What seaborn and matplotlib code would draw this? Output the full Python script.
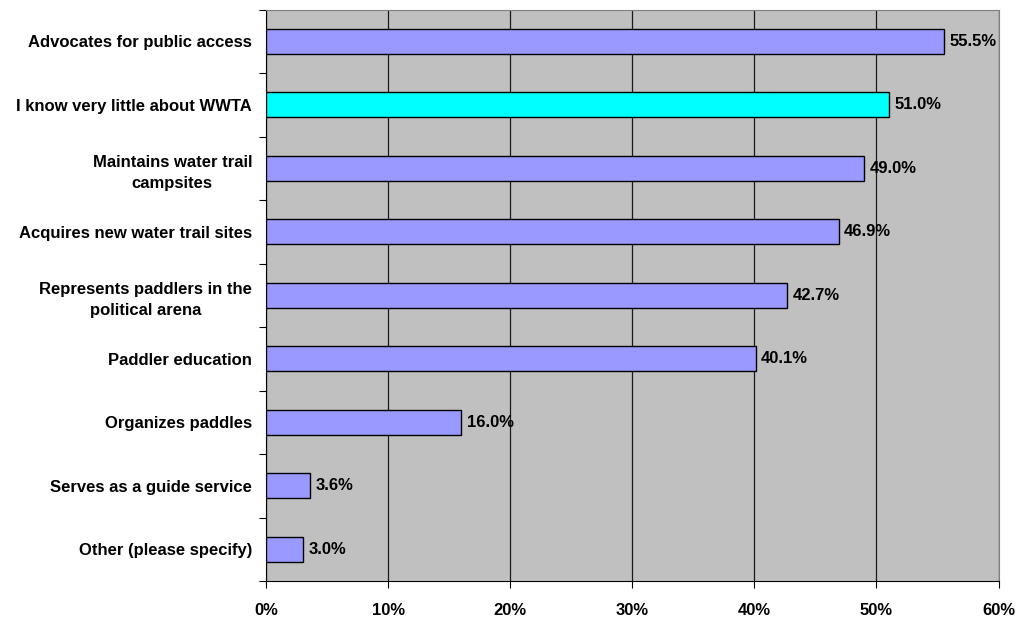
import matplotlib
matplotlib.use("Agg")
import matplotlib.pyplot as plt
from matplotlib.ticker import FixedLocator, PercentFormatter
import seaborn as sns
import pandas as pd

categories = [
    "Advocates for public access",
    "I know very little about WWTA",
    "Maintains water trail\ncampsites",
    "Acquires new water trail sites",
    "Represents paddlers in the\npolitical arena",
    "Paddler education",
    "Organizes paddles",
    "Serves as a guide service",
    "Other (please specify)",
]
values = [55.5, 51.0, 49.0, 46.9, 42.7, 40.1, 16.0, 3.6, 3.0]
bar_colors = ["#9999FF", "#00FFFF", "#9999FF", "#9999FF", "#9999FF",
              "#9999FF", "#9999FF", "#9999FF", "#9999FF"]
x_ticks = [0, 10, 20, 30, 40, 50, 60]

sns.set_theme(style="white")
plt.rcParams["font.family"] = ["Liberation Sans", "DejaVu Sans"]
plt.rcParams["font.weight"] = "bold"
plt.rcParams["text.color"] = "black"
plt.rcParams["xtick.color"] = "black"
plt.rcParams["ytick.color"] = "black"

df = pd.DataFrame({"category": categories, "value": values})

fig = plt.figure(figsize=(10.19, 6.17), dpi=100)
ax = fig.add_axes([266 / 1019, 1 - 581 / 617, (998.5 - 266) / 1019, (581 - 9.5) / 617])
ax.set_facecolor("#C0C0C0")

sns.barplot(data=df, x="value", y="category", hue="category",
            palette=dict(zip(categories, bar_colors)), legend=False,
            saturation=1, width=0.39, edgecolor="black", linewidth=1.0,
            ax=ax, zorder=3)

ax.set_xlim(0, 60)
ax.set_ylim(len(categories) - 0.5, -0.5)
ax.xaxis.set_major_locator(FixedLocator(x_ticks))
ax.xaxis.set_major_formatter(PercentFormatter(decimals=0))
ax.grid(axis="x", color="#1a1a1a", linewidth=0.9, zorder=1)
ax.set_axisbelow(True)

# category boundary ticks on the y axis, labels centered between them
ax.yaxis.set_minor_locator(FixedLocator([i - 0.5 for i in range(len(categories) + 1)]))
ax.tick_params(axis="y", which="major", length=0, pad=10, labelsize=12,
               labelcolor="black")
ax.tick_params(axis="y", which="minor", left=True, length=5, width=0.8, color="black")
ax.tick_params(axis="x", which="major", bottom=True, length=5, width=0.8,
               color="black", pad=11, labelsize=12, labelcolor="black")
for lbl in ax.get_yticklabels():
    lbl.set_multialignment("center")
    lbl.set_linespacing(1.55)

ax.set_xlabel("")
ax.set_ylabel("")

for side in ["top", "right"]:
    ax.spines[side].set_color("#808080")
    ax.spines[side].set_linewidth(0.8)
for side in ["left", "bottom"]:
    ax.spines[side].set_color("black")
    ax.spines[side].set_linewidth(0.8)

for container in ax.containers:
    ax.bar_label(container, labels=[f"{v:.1f}%" for v in container.datavalues],
                 padding=4, fontsize=12, fontweight="bold", color="black")

fig.savefig("out.png", dpi=100)
